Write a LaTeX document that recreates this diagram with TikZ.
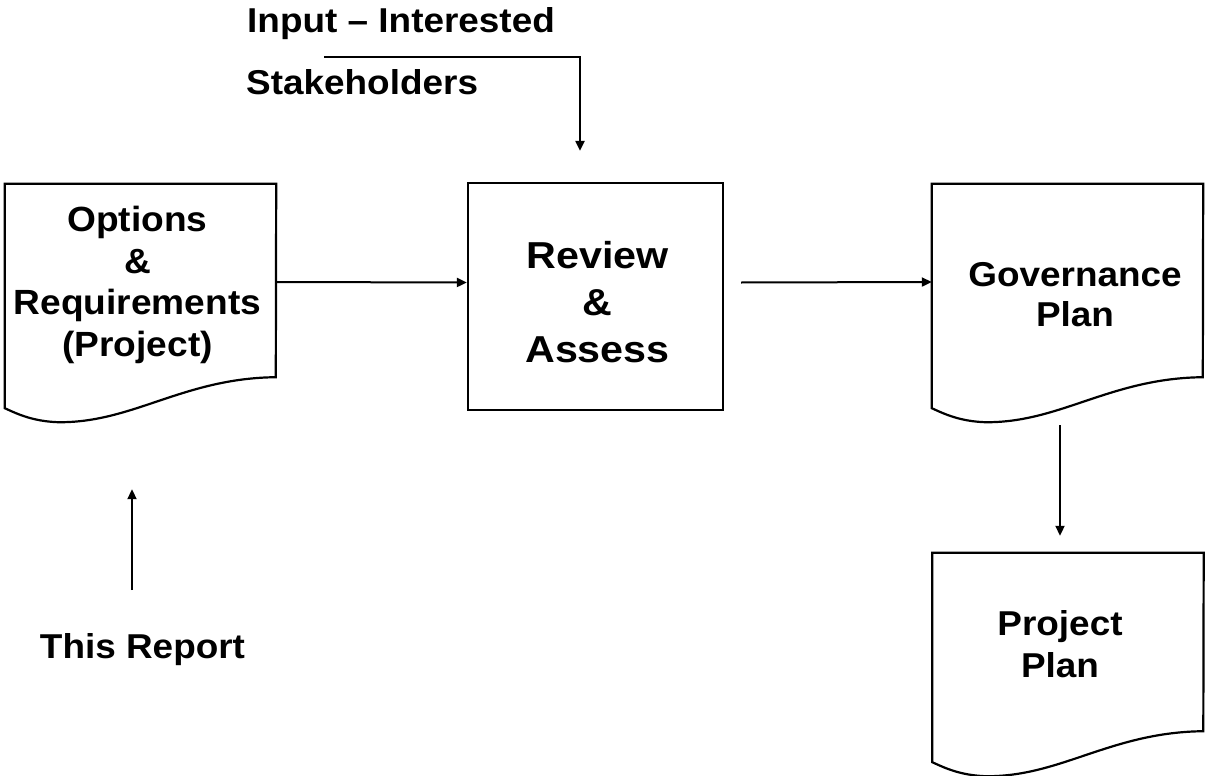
\documentclass[tikz,border=0pt]{standalone}
\usepackage{fontspec}
\setmainfont{Liberation Sans}
\newfontfamily\txtfont[Ligatures=TeX, FakeStretch=1.07]{Liberation Sans}
\newfontfamily\optfont[Ligatures=TeX, FakeStretch=1.06]{Liberation Sans}
\newfontfamily\revfont[Ligatures=TeX, FakeStretch=1.1]{Liberation Sans}
\usetikzlibrary{calc,arrows.meta}

\tikzset{
  shapeline/.style={draw=black, line width=2.2pt, line join=miter},
  arr/.style={draw=black, line width=2pt, -{Triangle[length=10pt,width=9pt]}},
  docbox/.style={minimum width=271pt, minimum height=224pt, inner sep=0pt, draw=none},
  procbox/.style={shapeline, minimum width=255pt, minimum height=227pt, inner sep=0pt},
  txt/.style={font=\txtfont\fontsize{34.5}{42}\selectfont\bfseries, align=center, inner sep=0pt},
  opttxt/.style={font=\optfont\fontsize{35}{41.7}\selectfont\bfseries, align=center, inner sep=0pt},
  revtxt/.style={font=\revfont\fontsize{37.5}{47}\selectfont\bfseries, align=center, inner sep=0pt},
}

% outline of a document symbol around a named node (wavy bottom edge)
\newcommand\docshape[1]{%
  \draw[shapeline] (#1.south west) -- (#1.north west) -- (#1.north east)
    -- ($(#1.south west)+(271,-31)$)
    .. controls ($(#1.south west)+(178,-30)$) and ($(#1.south west)+(128,15)$)
    .. ($(#1.south west)+(53,14)$)
    .. controls ($(#1.south west)+(28,13)$) and ($(#1.south west)+(13,6)$)
    .. (#1.south west) -- cycle;}

\begin{document}
\begin{tikzpicture}[x=1pt, y=-1pt]
\useasboundingbox (0,0) rectangle (1205,776);

% documents and process box
\node[docbox, label={[opttxt, xshift=-3pt, yshift=11pt]center:{Options\\\&\\Requirements\\(Project)}}] (opt) at (140.5,296) {};
\docshape{opt}

\node[procbox, label={[revtxt, xshift=2pt, yshift=-6pt]center:{Review\\\&\\Assess}}] (rev) at (595.5,296.5) {};

\node[docbox, label={[txt, xshift=7.5pt, yshift=1pt, font=\txtfont\fontsize{34.5}{40}\selectfont\bfseries]center:{Governance\\Plan}}] (gov) at (1067.5,296) {};
\docshape{gov}

\node[docbox, minimum height=209pt, label={[txt, xshift=-8pt, yshift=13pt]center:{Project\\Plan}}] (proj) at (1068,657.5) {};
\docshape{proj}

% free-standing texts
\node[txt, anchor=base west] (inp1) at (247,33) {Input – Interested};
\node[txt, anchor=base west] (inp2) at (246,95) {Stakeholders};
\node[txt, anchor=base] (rep) at (142.5,658) {This Report};
\coordinate (fork) at (324,57);

% connectors
\draw[arr] ([yshift=14pt]opt.east) -- ([yshift=14pt]rev.west);
\draw[arr] ([xshift=17pt,yshift=14pt]rev.east) -- ([yshift=14pt]gov.west);
\draw[arr] ([xshift=-7.5pt,yshift=-17pt]gov.south) -- ([xshift=-8pt,yshift=17pt]proj.north);
\draw[arr] (fork) -| ([xshift=-15.5pt,yshift=31pt]rev.north);
\draw[arr] ([xshift=-10.5pt,yshift=68pt]rep.base) -- ([xshift=-8.5pt,yshift=-81pt]opt.south);
\end{tikzpicture}
\end{document}
